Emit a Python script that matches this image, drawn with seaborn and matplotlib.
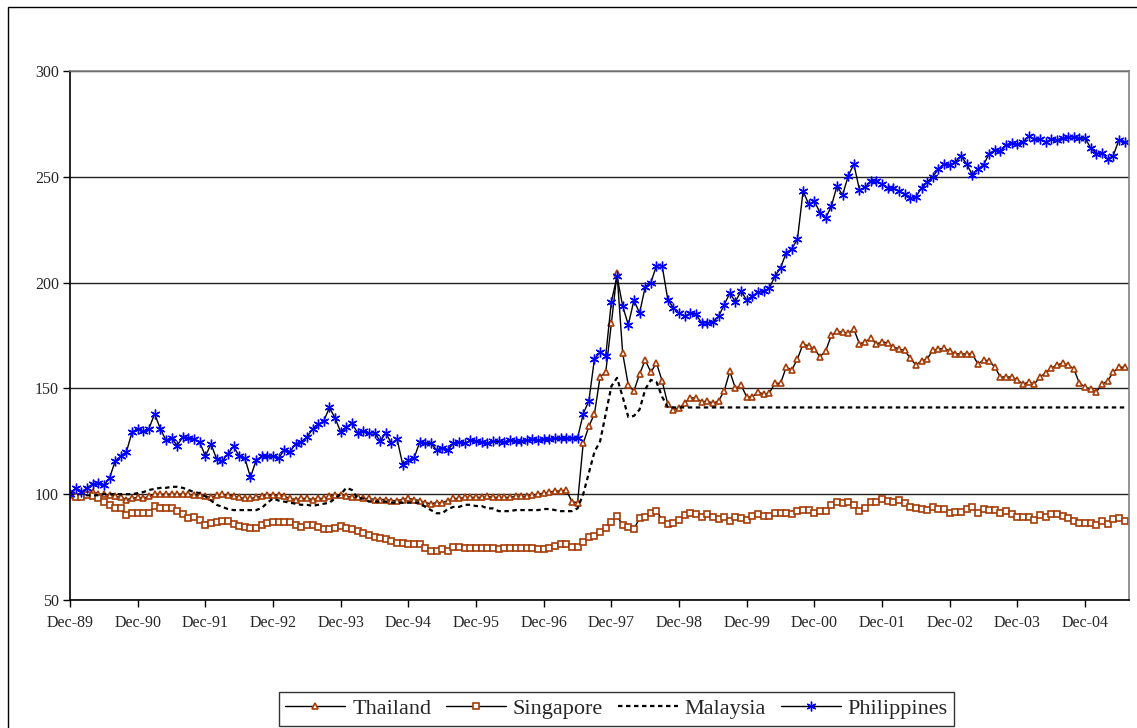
import matplotlib
matplotlib.use('Agg')
import matplotlib.pyplot as plt
import matplotlib.patches as patches
import numpy as np
import pandas as pd
import seaborn as sns

# monthly index values, Dec-89 = 100
thailand = [
    100, 99, 99, 100, 101, 100, 100, 99.5, 99, 98.5, 97.5, 98,
    98.5, 98, 99, 100, 100, 100, 100, 100, 100, 100, 99.5, 99.5,
    99, 98.5, 99.5, 100, 99.5, 99, 98.5, 98, 98, 98.5, 99, 99.5,
    99.5, 99.5, 99, 98, 97.5, 98, 98, 97.5, 98, 98, 99, 99.5,
    99.5, 99, 98.5, 98.5, 98, 98, 97.5, 97.5, 97.5, 97, 97, 97.5,
    98, 97.5, 97, 96, 95.5, 96, 96, 97, 98, 98, 98.5, 98.5,
    98.5, 98.5, 99, 98.5, 98.5, 98.5, 98.5, 99, 99, 99, 99.5, 100,
    100.5, 101, 101.5, 101.5, 102, 96.5, 96, 124, 132, 138, 155.5, 157.7,
    180.8, 204.5, 166.7, 151.5, 148.8, 156.8, 163.4, 157.7, 162, 153.5, 142.6, 140,
    140.7, 143, 145.5, 145.5, 143.6, 144, 143, 144, 148.8, 158, 150, 151.5,
    146, 146, 148.3, 147.3, 147.8, 152.4, 152.4, 160, 158.7, 164, 171, 170,
    168.6, 165, 167.7, 175, 177, 176.5, 176, 178, 171, 172, 173.7, 171,
    172, 171.5, 169.6, 168.6, 168, 164.3, 161, 163, 164, 168, 168.6, 169,
    167.7, 166.3, 166.3, 166.3, 166.3, 161.5, 163.4, 163, 160, 155.4, 155.4, 155.4,
    154, 152, 153, 152, 155.4, 157.3, 159.6, 161, 162, 161, 159.2, 152.5,
    150.6, 149.7, 148.3, 152, 153.5, 157.7, 160, 160,
]
singapore = [
    100, 98.5, 98.5, 99.6, 99.1, 98, 96.5, 94.9, 93.3, 93.3, 90.2, 91,
    91.3, 91, 91.3, 94.4, 93.3, 93.3, 93.3, 92.2, 90.5, 88.6, 89.4, 87.8,
    85.5, 86.2, 87, 87.5, 87.5, 85.9, 85, 84.3, 83.9, 84.2, 85.5, 86.2,
    86.7, 86.7, 86.7, 86.7, 85.5, 84.7, 85.5, 85.5, 84.7, 83.6, 83.6, 84.2,
    85, 84.2, 83.4, 82.8, 81.8, 80.7, 79.9, 79.2, 78.7, 77.9, 77.1, 77.1,
    76.5, 76.5, 76.5, 74.4, 73.3, 73.3, 73.9, 73.3, 75.2, 75.2, 74.7, 74.7,
    74.7, 74.7, 74.7, 74.7, 74.1, 74.7, 74.7, 74.7, 74.7, 74.7, 74.7, 74.1,
    74.1, 74.7, 75.5, 76.5, 76.5, 75.2, 75.2, 77.6, 79.9, 80.2, 82.3, 83.9,
    87, 89.7, 85.5, 84.7, 83.6, 88.6, 89, 91, 92, 88, 86, 86.5,
    88, 90, 91, 90.5, 89, 90.5, 89, 88.5, 89, 87.5, 89, 88.6,
    87.8, 89.9, 90.5, 89.7, 89.7, 91.3, 91.3, 91.3, 90.5, 92, 92.5, 92.5,
    91.3, 92, 92, 94.9, 96.5, 95.7, 96.5, 94.9, 92, 93.3, 96.5, 96.5,
    97.6, 96.9, 96.5, 97.3, 95.7, 94.1, 93.3, 93, 92.5, 93.8, 93, 93,
    91, 91.8, 91.8, 93, 93.8, 91, 93, 92.5, 92.5, 91.3, 92, 90.5,
    89.4, 89.4, 89.4, 87.8, 90.2, 89.4, 90.5, 90.5, 89.9, 88.6, 87.3, 86.2,
    86.2, 86.2, 85.5, 87.5, 86, 88.1, 88.6, 87.3,
]
malaysia = [
    100, 100, 100, 99.5, 99.5, 99.5, 100, 100, 100, 100, 100, 100,
    100.5, 101, 102, 102.5, 103, 103, 103.5, 103.5, 103, 102, 101, 100.5,
    99, 97, 95, 94, 93, 92.5, 92.5, 92.5, 92.5, 92.5, 93.5, 96,
    98, 97, 96.5, 96, 95.5, 95, 95, 94.5, 95, 95.5, 96, 98,
    100, 103, 102, 98, 98, 96.5, 96.5, 96.5, 96.5, 96, 96, 96,
    96, 96, 96, 94, 92.5, 91, 91, 93, 94, 94, 95, 95,
    94.4, 94.4, 93.3, 93.3, 92, 92, 92, 92.5, 92.5, 92.5, 92.5, 92.5,
    93, 93, 92.5, 92, 92, 92, 93.3, 100, 110, 120, 125, 138,
    151, 155, 146, 136.5, 137, 140, 149.5, 154, 153, 146, 141.2, 141,
    141, 141, 141, 141, 141, 141, 141, 141, 141, 141, 141, 141,
    141, 141, 141, 141, 141, 141, 141, 141, 141, 141, 141, 141,
    141, 141, 141, 141, 141, 141, 141, 141, 141, 141, 141, 141,
    141, 141, 141, 141, 141, 141, 141, 141, 141, 141, 141, 141,
    141, 141, 141, 141, 141, 141, 141, 141, 141, 141, 141, 141,
    141, 141, 141, 141, 141, 141, 141, 141, 141, 141, 141, 141,
    141, 141, 141, 141, 141, 141, 141, 141,
]
philippines = [
    100, 103, 101, 103, 104.8, 105.3, 104.3, 107.6, 115.6, 118, 120, 129.4,
    131, 129.7, 131, 138, 131, 125.5, 126.5, 123, 127, 126.5, 126, 124.5,
    118, 123.7, 116.6, 115.7, 119, 122.6, 118, 117, 108, 116, 118, 118,
    118, 117, 121, 120, 123.7, 124.7, 127, 130.6, 133, 134.6, 141, 136,
    129.4, 131.8, 133.5, 129, 130, 129, 129, 125, 129, 124, 126, 114,
    116, 117, 124.5, 124, 124, 121, 121.8, 121, 124, 124.7, 124, 125.5,
    125, 124.5, 124, 125, 125, 124.5, 125.5, 125, 125, 125.5, 126, 125.5,
    126, 126, 126.5, 126.5, 126.5, 126.5, 126.5, 138, 144, 164, 167, 165.5,
    191, 203, 189, 180, 191.7, 185.6, 198, 200, 208, 208, 192, 188,
    185.6, 184, 185.6, 185, 181, 181, 181.5, 184, 189.5, 195, 191, 196,
    191.7, 193.6, 195.6, 196, 197.4, 203, 207, 214, 216, 220.6, 243.3, 237,
    238.5, 233, 230.5, 236, 245.6, 241.4, 250.4, 256, 243.8, 245, 248, 248,
    246.6, 244.7, 244.7, 243.3, 241.8, 240, 240.5, 244.7, 247.5, 250, 253.7, 256,
    255.6, 257, 260, 256, 251, 253.7, 255.6, 261, 262.6, 262.2, 265, 266,
    265.5, 266.4, 269.3, 267.8, 267.8, 266.4, 267.8, 267.4, 268.3, 268.8, 268.8, 268.3,
    268.3, 263.6, 261, 261.3, 258.4, 260, 267.4, 266.4,
]
tick_labels = ['Dec-89', 'Dec-90', 'Dec-91', 'Dec-92', 'Dec-93', 'Dec-94', 'Dec-95', 'Dec-96',
               'Dec-97', 'Dec-98', 'Dec-99', 'Dec-00', 'Dec-01', 'Dec-02', 'Dec-03', 'Dec-04']

months = pd.date_range('1989-12-01', periods=len(thailand), freq='MS')
df = pd.DataFrame({'pos': np.arange(len(months)), 'Thailand': thailand, 'Singapore': singapore,
                   'Malaysia': malaysia, 'Philippines': philippines})

sns.set_style('white')
plt.rcParams['font.family'] = ['Liberation Serif', 'DejaVu Serif']

fig = plt.figure(figsize=(11.37, 7.28), dpi=100)
ax = fig.add_axes([0.0616, 0.1758, 0.9314, 0.7267])

brown = '#A63C06'
sns.lineplot(data=df, x='pos', y='Thailand', ax=ax, color='black', lw=1.0, label='Thailand',
             marker='^', markersize=5, markerfacecolor='white', markeredgecolor=brown, markeredgewidth=1.2)
sns.lineplot(data=df, x='pos', y='Singapore', ax=ax, color='black', lw=1.0, label='Singapore',
             marker='s', markersize=4.5, markerfacecolor='white', markeredgecolor=brown, markeredgewidth=1.2)
sns.lineplot(data=df, x='pos', y='Malaysia', ax=ax, color='black', lw=1.6, label='Malaysia',
             linestyle=(0, (2, 1.6)))
sns.lineplot(data=df, x='pos', y='Philippines', ax=ax, color='black', lw=1.0, label='Philippines',
             marker=(6, 2, 0), markersize=7, markeredgecolor='#0000FF', markeredgewidth=1.0)

ax.set_xlim(0, len(months) - 0.2)
ax.set_ylim(50, 300)
ax.set_yticks([50, 100, 150, 200, 250, 300])
ax.set_xticks(df['pos'][::12])
ax.set_xticklabels(tick_labels)
ax.set_xlabel('')
ax.set_ylabel('')
ax.yaxis.grid(True, color='#222222', lw=1.0)
ax.set_axisbelow(True)
ax.tick_params(axis='both', direction='out', length=5, width=1, color='black', labelsize=11.5, pad=3)
ax.tick_params(axis='x', pad=6)
ax.tick_params(left=True, bottom=True)
for s in ['left', 'bottom']:
    ax.spines[s].set_color('black')
    ax.spines[s].set_linewidth(1.2)
for s in ['top', 'right']:
    ax.spines[s].set_color('#808080')
    ax.spines[s].set_linewidth(1.2)

handles, labels = ax.get_legend_handles_labels()
leg = ax.legend(handles, labels, ncol=4, loc='center', bbox_to_anchor=(0.5422, 0.0265),
                bbox_transform=fig.transFigure, frameon=True, fancybox=False, edgecolor='black',
                fontsize=16, handlelength=2.7, columnspacing=0.65, handletextpad=0.32, borderpad=0.3,
                borderaxespad=0)
leg.get_frame().set_linewidth(1.0)

# outer chart border
fig.patches.append(patches.Rectangle((8 / 1137, -0.5), 2, 1.5 - 7 / 728, transform=fig.transFigure,
                                     fill=False, edgecolor='black', lw=1.0))

fig.savefig('out.png', dpi=100)
